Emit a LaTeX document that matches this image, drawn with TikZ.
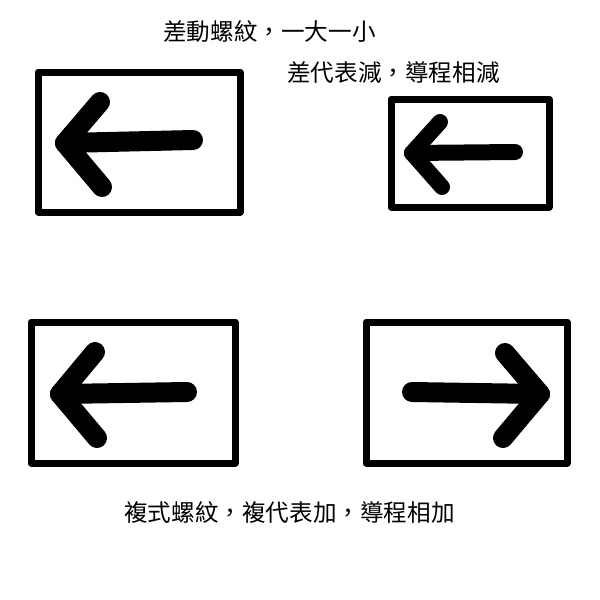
\documentclass[tikz,border=0pt]{standalone}
\usepackage{fontspec}
\newfontfamily\cjk{Noto Sans CJK TC}
\begin{document}
\begin{tikzpicture}[x=1pt,y=-1pt,
  frame/.style={line width=7pt,line join=round},
  arr/.style={line width=20pt,line cap=round,line join=round},
  arrs/.style={line width=16pt,line cap=round,line join=round},
  lbl/.style={font=\cjk\fontsize{23.6}{28}\selectfont,anchor=west,inner sep=0pt}]
\useasboundingbox (0,0) rectangle (600,600);
% box 1
\draw[frame] (38,72) rectangle (240,212);
\draw[arr] (193,140) -- (65,143);
\draw[arr] (100,102) -- (65,143) -- (102,187);
% box 2
\draw[frame] (391,99) rectangle (549,207);
\draw[arrs] (515,152) -- (412,153);
\draw[arrs] (440,122) -- (412,153) -- (442,187);
% box 3
\draw[frame] (31,322) rectangle (235,463);
\draw[arr] (187,392) -- (60,394);
\draw[arr] (95,352) -- (60,394) -- (97,438);
% box 4
\draw[frame] (366,322) rectangle (567,463);
\draw[arr] (412,392) -- (540,394);
\draw[arr] (505,353) -- (540,394) -- (503,438);
% labels
\node[lbl] (t1) at (163,32) {差動螺紋，一大一小};
\node[lbl] (t2) at (287,73) {差代表減，導程相減};
\node[lbl] (t3) at (124,513) {複式螺紋，複代表加，導程相加};
\end{tikzpicture}
\end{document}
